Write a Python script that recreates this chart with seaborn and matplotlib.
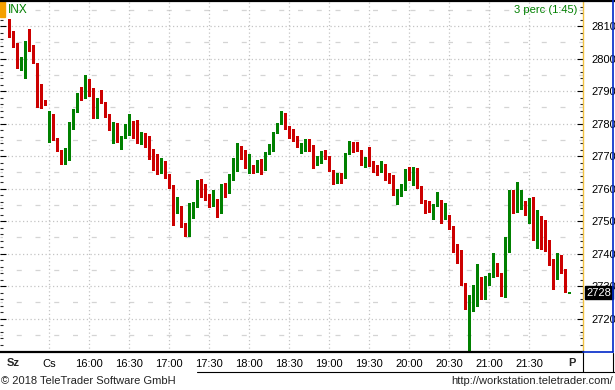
import numpy as np
import pandas as pd
import matplotlib
matplotlib.use("Agg")
import matplotlib.pyplot as plt
import seaborn as sns
from matplotlib.lines import Line2D
from matplotlib.patches import Rectangle

# ---------------- data (3-minute candles, INX) ----------------
opens = [2811.6, 2807.9, 2804.2, 2798.0, 2800.3, 2804.8, 2803.5, 2798.6, 2788.2, 2787.2,
         2777.0, 2780.0, 2775.5, 2771.4, 2768.1, 2770.3, 2780.0, 2783.5, 2789.1, 2788.5,
         2793.7, 2790.3, 2782.0, 2787.2, 2786.3, 2782.3, 2778.8, 2780.2, 2775.6, 2775.9,
         2778.0, 2780.6, 2778.9, 2774.9, 2776.8, 2774.7, 2771.6, 2770.6, 2764.7, 2768.5,
         2763.9, 2760.9, 2752.6, 2753.7, 2749.2, 2746.4, 2754.9, 2755.3, 2762.3, 2757.8,
         2758.0, 2754.6, 2756.2, 2753.4, 2761.4, 2760.4, 2763.8, 2766.7, 2772.6, 2771.3,
         2767.0, 2767.2, 2765.5, 2767.2, 2767.1, 2771.0, 2772.4, 2777.4, 2780.3, 2782.9,
         2778.2, 2777.4, 2775.9, 2772.3, 2773.5, 2774.7, 2773.2, 2767.5, 2770.1, 2771.0,
         2770.0, 2765.7, 2762.6, 2763.6, 2763.4, 2771.0, 2774.1, 2771.8, 2771.8, 2767.5,
         2769.7, 2768.3, 2765.9, 2765.7, 2767.2, 2763.9, 2763.9, 2758.7, 2759.0, 2759.8,
         2765.4, 2763.5, 2766.3, 2760.6, 2755.8, 2754.6, 2753.7, 2754.9, 2756.2, 2750.9,
         2751.5, 2748.3, 2742.9, 2738.9, 2730.9, 2722.9, 2726.2, 2727.9, 2732.7, 2730.3,
         2731.3, 2733.7, 2736.8, 2733.4, 2729.2, 2743.3, 2755.5, 2753.7, 2754.9, 2755.8,
         2752.9, 2756.2, 2742.9, 2751.5, 2744.6, 2741.5, 2736.5, 2734.2, 2739.2, 2733.7,
         2727.9]
highs = [2812.1, 2808.5, 2804.7, 2800.6, 2805.4, 2809.1, 2804.1, 2798.6, 2792.2, 2787.2,
         2783.8, 2782.9, 2775.5, 2771.8, 2772.4, 2780.5, 2784.6, 2789.5, 2791.1, 2794.9,
         2793.7, 2790.8, 2788.0, 2790.3, 2786.6, 2782.9, 2780.6, 2780.2, 2776.1, 2780.0,
         2782.9, 2780.9, 2781.1, 2777.4, 2777.2, 2776.2, 2772.3, 2770.6, 2769.4, 2768.5,
         2764.5, 2761.1, 2757.5, 2754.7, 2749.5, 2755.6, 2755.9, 2762.6, 2762.9, 2761.4,
         2758.3, 2759.7, 2756.7, 2761.4, 2761.8, 2764.5, 2769.3, 2773.9, 2773.1, 2771.8,
         2770.6, 2767.2, 2768.8, 2769.0, 2771.3, 2773.7, 2777.4, 2780.1, 2783.8, 2783.3,
         2779.2, 2778.2, 2776.3, 2774.1, 2775.3, 2775.1, 2773.5, 2770.0, 2771.5, 2771.8,
         2770.0, 2765.7, 2764.9, 2764.9, 2771.0, 2774.7, 2774.4, 2774.4, 2771.8, 2769.7,
         2772.9, 2768.6, 2767.2, 2768.5, 2767.5, 2764.7, 2764.2, 2759.8, 2761.4, 2766.0,
         2766.6, 2766.7, 2766.3, 2760.8, 2756.5, 2756.2, 2755.2, 2759.0, 2756.5, 2755.6,
         2751.8, 2748.6, 2742.9, 2741.0, 2730.9, 2727.2, 2730.3, 2736.8, 2732.9, 2733.1,
         2733.9, 2740.1, 2737.0, 2733.9, 2745.2, 2759.5, 2759.5, 2761.9, 2759.7, 2756.2,
         2757.0, 2757.5, 2753.4, 2751.5, 2750.3, 2744.2, 2738.2, 2740.1, 2739.5, 2735.1,
         2728.3]
lows = [2806.7, 2803.6, 2797.2, 2796.5, 2794.1, 2802.4, 2798.7, 2785.2, 2784.9, 2785.8,
        2774.4, 2774.9, 2771.6, 2767.5, 2767.5, 2768.8, 2778.4, 2783.5, 2787.2, 2787.8,
        2788.5, 2781.8, 2781.7, 2786.2, 2782.1, 2778.0, 2774.1, 2774.4, 2772.2, 2775.6,
        2776.5, 2775.6, 2774.1, 2773.7, 2772.9, 2769.2, 2765.7, 2764.6, 2764.7, 2763.3,
        2760.1, 2748.8, 2752.6, 2748.2, 2745.5, 2745.5, 2751.0, 2754.4, 2757.3, 2756.5,
        2754.2, 2754.6, 2751.3, 2752.4, 2757.5, 2758.5, 2762.6, 2765.5, 2769.0, 2766.3,
        2764.9, 2764.9, 2765.1, 2764.5, 2765.7, 2770.6, 2771.6, 2777.0, 2780.0, 2778.4,
        2775.7, 2774.7, 2772.9, 2771.0, 2771.6, 2771.6, 2766.4, 2767.2, 2767.9, 2769.2,
        2765.5, 2761.4, 2761.7, 2761.8, 2763.1, 2770.6, 2771.3, 2771.5, 2767.2, 2766.7,
        2766.9, 2765.1, 2764.3, 2765.1, 2762.6, 2761.8, 2758.0, 2755.2, 2757.8, 2759.5,
        2762.6, 2761.1, 2760.1, 2755.4, 2752.6, 2752.9, 2750.7, 2754.7, 2749.5, 2750.6,
        2747.5, 2740.6, 2737.2, 2730.3, 2722.9, 2710.3, 2722.3, 2723.9, 2725.9, 2725.9,
        2730.3, 2732.9, 2733.1, 2726.9, 2726.5, 2740.6, 2752.6, 2752.7, 2753.6, 2751.8,
        2749.5, 2744.2, 2741.7, 2741.4, 2740.9, 2736.6, 2729.2, 2732.1, 2733.9, 2728.3,
        2727.9]
closes = [2807.9, 2804.2, 2797.7, 2800.3, 2805.1, 2803.6, 2799.0, 2788.6, 2786.4, 2785.8,
          2780.5, 2775.9, 2771.8, 2767.7, 2770.6, 2780.1, 2783.2, 2789.2, 2788.5, 2794.1,
          2790.4, 2781.8, 2787.0, 2786.9, 2782.6, 2778.7, 2780.3, 2775.6, 2775.9, 2777.7,
          2780.3, 2778.7, 2774.9, 2776.7, 2774.7, 2771.3, 2771.1, 2764.6, 2768.8, 2763.9,
          2760.4, 2752.6, 2753.8, 2749.2, 2746.4, 2754.9, 2755.4, 2762.3, 2757.7, 2757.5,
          2754.6, 2756.2, 2753.4, 2760.8, 2760.4, 2763.5, 2766.5, 2772.4, 2771.3, 2766.7,
          2767.2, 2765.5, 2767.5, 2767.0, 2771.0, 2772.6, 2777.4, 2780.1, 2783.3, 2778.7,
          2777.8, 2775.9, 2773.2, 2773.7, 2774.9, 2773.2, 2767.9, 2770.0, 2771.0, 2770.1,
          2765.9, 2762.6, 2763.6, 2763.3, 2771.0, 2774.1, 2771.8, 2771.5, 2767.5, 2769.7,
          2768.3, 2765.4, 2765.4, 2767.2, 2764.0, 2763.5, 2759.0, 2759.0, 2759.8, 2765.5,
          2763.5, 2766.3, 2760.4, 2755.7, 2754.6, 2753.4, 2754.9, 2756.2, 2751.3, 2751.5,
          2748.6, 2743.2, 2738.9, 2731.2, 2723.2, 2726.0, 2727.5, 2732.4, 2730.3, 2730.8,
          2733.7, 2737.0, 2733.7, 2729.2, 2743.1, 2755.9, 2754.4, 2754.9, 2755.8, 2752.9,
          2756.8, 2746.2, 2751.5, 2744.6, 2741.6, 2736.6, 2734.4, 2739.2, 2734.2, 2728.3,
          2728.2]

x_tick_pos = [1, 10, 20, 30, 40, 50, 60, 70, 80, 90, 100, 110, 120, 130, 140.7]
x_tick_labels = ["Sz", "Cs", "16:00", "16:30", "17:00", "17:30", "18:00", "18:30",
                 "19:00", "19:30", "20:00", "20:30", "21:00", "21:30", "P"]
y_major = [2720, 2730, 2740, 2750, 2760, 2770, 2780, 2790, 2800, 2810]
y_minor_grid = [2715, 2725, 2735, 2745, 2755, 2765, 2775, 2785, 2795, 2805, 2815]
last_price = 2728

# ---------------- styling ----------------
sns.set_style("white")
plt.rcParams["font.family"] = ["Liberation Sans", "DejaVu Sans"]

W, H = 615, 390
fig = plt.figure(figsize=(W / 100, H / 100), dpi=100)
ax = fig.add_axes([0, (H - 352) / H, 583 / W, 351 / H])

df = pd.DataFrame({"open": opens, "high": highs, "low": lows, "close": closes})
df["idx"] = np.arange(len(df))
up = df["close"] >= df["open"]
RED, GREEN = "#cc0000", "#008000"
df["color"] = np.where(up, GREEN, RED)
df["bottom"] = df[["open", "close"]].min(axis=1)
df["height"] = (df["close"] - df["open"]).abs().clip(lower=0.3)

ax.set_xlim(-2.33, 143.4)
ax.set_ylim(2709.7, 2817.7)

# grid
for v in y_major:
    ax.axhline(v, color="#c4c4c4", lw=0.9, ls=(0, (1, 2)), zorder=0)
for v in y_minor_grid:
    ax.axhline(v, color="#d4d4d4", lw=0.9, ls=(2, (4, 11)), zorder=0)
for p in x_tick_pos[1:-1]:
    ax.axvline(p, color="#c4c4c4", lw=0.9, ls=(0, (1, 2)), zorder=0)

# candles
ax.vlines(df["idx"], df["low"], df["high"], colors=df["color"], lw=0.75,
          antialiased=False, zorder=2)
ax.bar(df["idx"], df["height"], bottom=df["bottom"], width=0.75,
       color=df["color"], edgecolor="none", antialiased=False, zorder=3)

# axes / ticks
ax.yaxis.tick_right()
ax.set_yticks(y_major)
ax.set_yticks(np.arange(2712, 2818, 2), minor=True)
ax.tick_params(axis="y", which="major", direction="in", length=4, width=0.8,
               left=True, right=True, labelleft=False, labelright=True,
               labelsize=8, pad=6, colors="black")
ax.tick_params(axis="y", which="minor", direction="in", length=2.5, width=0.8,
               left=True, right=True)
ax.set_xticks(x_tick_pos[1:-1])
ax.set_xticklabels(x_tick_labels[1:-1])
ax.set_xticks([x_tick_pos[0], x_tick_pos[-1]], minor=True)
ax.set_xticklabels([x_tick_labels[0], x_tick_labels[-1]], minor=True,
                   fontweight="bold")
ax.tick_params(axis="x", which="major", direction="out", length=3, width=0.8,
               labelsize=8, pad=2, colors="black")
ax.tick_params(axis="x", which="minor", length=0, labelsize=8, pad=4.2)

for s in ["top", "left"]:
    ax.spines[s].set_visible(False)
ax.spines["bottom"].set_color("black")
ax.spines["bottom"].set_linewidth(1.6)
ax.spines["right"].set_color("#f0c040")
ax.spines["right"].set_linewidth(1.0)
ax.spines["right"].set_linestyle((0, (1, 1)))

# last price box
ax.annotate(f"{last_price}", xy=(1.0, last_price), xycoords=("axes fraction", "data"),
            xytext=(2.5, 0), textcoords="offset points", ha="left", va="center",
            fontsize=8, color="white",
            bbox=dict(boxstyle="square,pad=0.12", fc="black", ec="black"), zorder=10)

# figure decorations
def fx(px):
    return px / W

def fy(py):
    return 1 - py / H

fig.add_artist(Line2D([0, 1], [fy(0.8), fy(0.8)], color="black", lw=1.6))
fig.add_artist(Line2D([fx(612.5), fx(612.5)], [fy(0), fy(352)], color="#0028c8", lw=1.2))
fig.add_artist(Line2D([fx(583), fx(613)], [fy(352), fy(352)], color="#0028c8", lw=1.2))
fig.add_artist(Line2D([fx(583), fx(583)], [fy(353), fy(372)], color="black", lw=0.8))
fig.add_artist(Line2D([fx(613), fx(613)], [fy(353), fy(372)], color="black", lw=0.8))
fig.add_artist(Line2D([fx(197), fx(615)], [fy(372), fy(372)], color="black", lw=0.8))
fig.add_artist(Rectangle((0, fy(17)), fx(5), fy(1) - fy(17), color="#f5a000",
                         transform=fig.transFigure))
fig.text(fx(8), fy(10), "INX", color="#008000", fontsize=8.5, ha="left", va="center")
fig.text(fx(577), fy(10), "3 perc (1:45)", color="#008000", fontsize=8,
         ha="right", va="center")
fig.text(fx(1), fy(381), "\u00a9 2018 TeleTrader Software GmbH", color="#222222",
         fontsize=8, ha="left", va="center")
fig.text(fx(613), fy(381), "http://workstation.teletrader.com/", color="#222222",
         fontsize=8, ha="right", va="center")

fig.savefig("out.png", dpi=100)
